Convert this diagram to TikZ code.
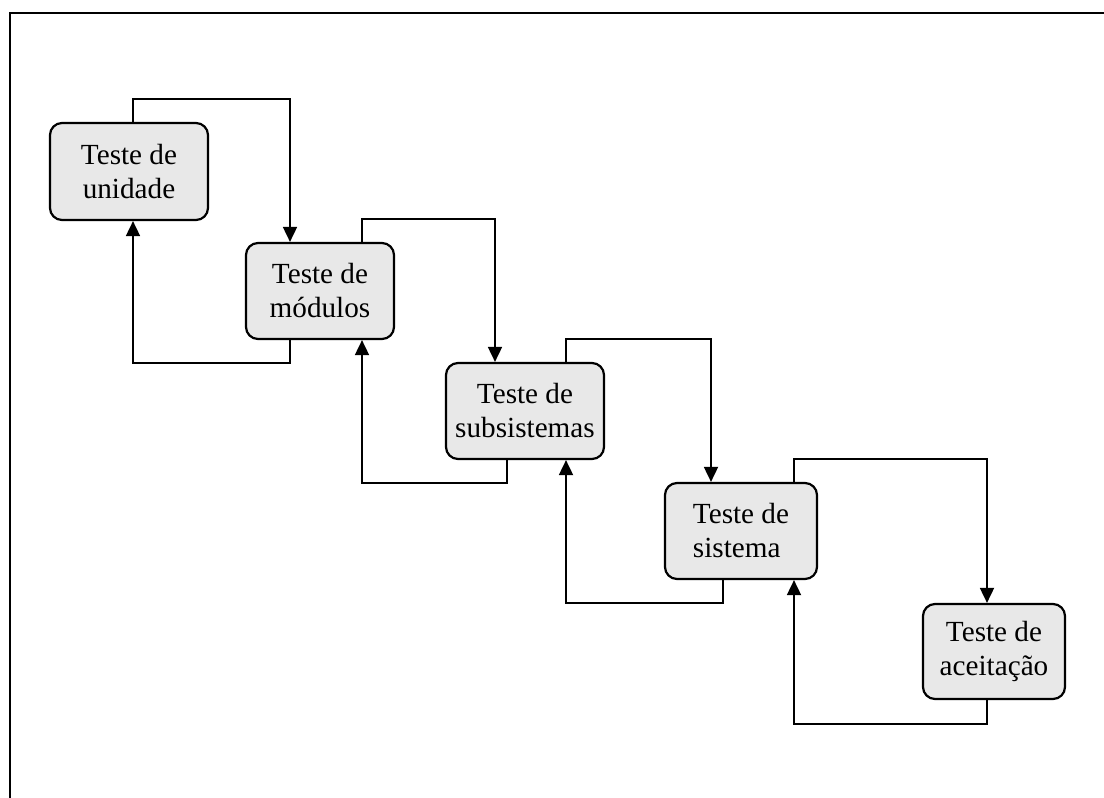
\documentclass[tikz,border=0pt]{standalone}
\usepackage{fontspec}
\setmainfont{Liberation Serif}
\usetikzlibrary{arrows.meta}
\definecolor{stagegray}{RGB}{232,232,232}
\begin{document}
\begin{tikzpicture}[x=1pt,y=-1pt,
  stage/.style={draw, line width=2.2pt, rounded corners=12pt, fill=stagegray,
    align=center, inner sep=0pt, font=\fontsize{29.2}{34}\selectfont},
  link/.style={line width=1.8pt, -{Triangle[width=14pt,length=15pt]}},
  frameline/.style={line width=2pt}
]
\useasboundingbox (0,0) rectangle (1104,798);

% outer frame (only top and left edges fall inside the page)
\draw[frameline] (10,820) -- (10,13) -- (1120,13);

% test stages
\node[stage, minimum width=158pt, minimum height=97pt] (B1) at (129,171.5) {Teste de\\unidade};
\node[stage, minimum width=148pt, minimum height=96pt] (B2) at (320,291) {Teste de\\módulos};
\node[stage, minimum width=158pt, minimum height=96pt] (B3) at (525,411) {Teste de\\subsistemas};
\node[stage, minimum width=152pt, minimum height=96pt, align=left] (B4) at (741,531) {Teste de\\sistema};
\node[stage, minimum width=142pt, minimum height=95pt] (B5) at (994,651.5) {Teste de\\aceitação};

% routing corners: forward (over the top)
\coordinate (f1a) at (133,99);  \coordinate (f1b) at (290,99);
\coordinate (f2a) at (362,219); \coordinate (f2b) at (495,219);
\coordinate (f3a) at (566,339); \coordinate (f3b) at (711,339);
\coordinate (f4a) at (794,459); \coordinate (f4b) at (987,459);
% routing corners: backward (underneath)
\coordinate (r1a) at (290,363); \coordinate (r1b) at (133,363);
\coordinate (r2a) at (507,483); \coordinate (r2b) at (362,483);
\coordinate (r3a) at (723,603); \coordinate (r3b) at (566,603);
\coordinate (r4a) at (987,724); \coordinate (r4b) at (794,724);

% forward links
\draw[link] (B1.north -| f1a) -- (f1a) -- (f1b) -- (B2.north -| f1b);
\draw[link] (B2.north -| f2a) -- (f2a) -- (f2b) -- (B3.north -| f2b);
\draw[link] (B3.north -| f3a) -- (f3a) -- (f3b) -- (B4.north -| f3b);
\draw[link] (B4.north -| f4a) -- (f4a) -- (f4b) -- (B5.north -| f4b);

% feedback links
\draw[link] (B2.south -| r1a) -- (r1a) -- (r1b) -- (B1.south -| r1b);
\draw[link] (B3.south -| r2a) -- (r2a) -- (r2b) -- (B2.south -| r2b);
\draw[link] (B4.south -| r3a) -- (r3a) -- (r3b) -- (B3.south -| r3b);
\draw[link] (B5.south -| r4a) -- (r4a) -- (r4b) -- (B4.south -| r4b);
\end{tikzpicture}
\end{document}
